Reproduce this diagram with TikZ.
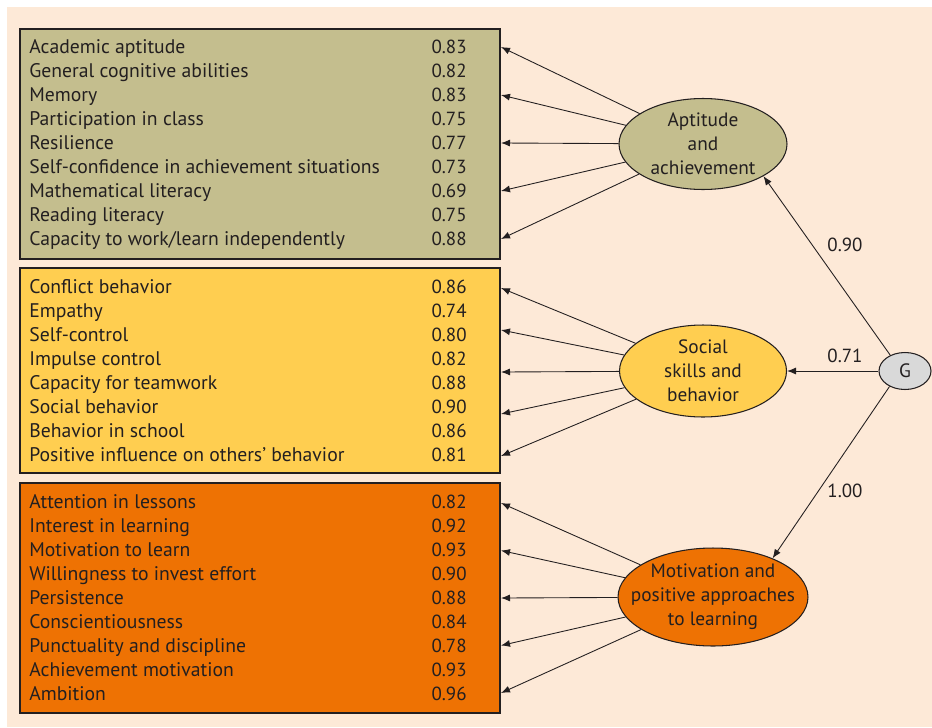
\documentclass[tikz,border=0pt]{standalone}
\usepackage{fontspec}
\setmainfont{PT Sans}
\usetikzlibrary{arrows.meta, positioning, shapes.geometric}
\definecolor{peach}{RGB}{253,233,215}
\definecolor{olive}{RGB}{196,190,142}
\definecolor{sunyellow}{RGB}{255,206,80}
\definecolor{deeporange}{RGB}{238,114,3}
\definecolor{lightgrey}{RGB}{217,217,217}
\definecolor{inkgrey}{RGB}{35,31,32}

\begin{document}
\begin{tikzpicture}[
    x=0.02cm, y=-0.02cm,
    box/.style={rectangle, draw=inkgrey, line width=0.8pt, minimum width=9.6cm, inner sep=0pt},
    item/.style={anchor=base west, inner sep=0pt, font=\fontsize{11.2}{12}\selectfont, text=inkgrey},
    load/.style={anchor=base east, inner sep=0pt, font=\fontsize{10.8}{12}\selectfont, text=inkgrey},
    factor/.style={ellipse, draw=inkgrey, line width=0.6pt, inner xsep=-10pt, inner ysep=-4pt,
                   align=center, font=\fontsize{11}{13.6}\selectfont, text=inkgrey},
    arrow/.style={-{Latex[length=1.8mm, width=1.4mm]}, line width=0.5pt, inkgrey},
    coef/.style={font=\fontsize{10.8}{12}\selectfont, text=inkgrey}
]

\useasboundingbox (0,0) rectangle (932,727);
\fill[white] (0,0) rectangle (932,727);
\fill[peach] (7,7) rectangle (932,727);

\node[box, fill=olive, minimum height=4.6cm] (boxA) at (260,144) {};
\node[box, fill=sunyellow, minimum height=4.1cm] (boxB) at (260,370.5) {};
\node[box, fill=deeporange, minimum height=4.6cm] (boxC) at (260,598) {};

\foreach \txt/\val [count=\i] in {Academic aptitude/0.83, General cognitive abilities/0.82,
    Memory/0.83, Participation in class/0.75, Resilience/0.77,
    Self-confidence in achievement situations/0.73, Mathematical literacy/0.69,
    Reading literacy/0.75, {Capacity to work/learn independently}/0.88} {
  \node[item] (a\i) at (29,29+24*\i) {\txt};
  \node[load] (av\i) at (467,29+24*\i) {\val};
}

\foreach \txt/\val [count=\i] in {Conflict behavior/0.86, Empathy/0.74, Self-control/0.80,
    Impulse control/0.82, Capacity for teamwork/0.88, Social behavior/0.90,
    Behavior in school/0.86, Positive influence on others' behavior/0.81} {
  \node[item] (s\i) at (29,269+24*\i) {\txt};
  \node[load] (sv\i) at (467,269+24*\i) {\val};
}

\foreach \txt/\val [count=\i] in {Attention in lessons/0.82, Interest in learning/0.92,
    Motivation to learn/0.93, Willingness to invest effort/0.90, Persistence/0.88,
    Conscientiousness/0.84, Punctuality and discipline/0.78,
    Achievement motivation/0.93, Ambition/0.96} {
  \node[item] (m\i) at (29,484+24*\i) {\txt};
  \node[load] (mv\i) at (467,484+24*\i) {\val};
}

\node[factor, fill=olive, minimum width=3.36cm, minimum height=1.82cm] (apt) at (703,144)
  {Aptitude\\and\\achievement};
\node[factor, fill=sunyellow, minimum width=3.34cm, minimum height=1.84cm] (soc) at (703,371)
  {Social\\skills and\\behavior};
\node[factor, fill=deeporange, minimum width=3.8cm, minimum height=1.96cm] (mot) at (713,597)
  {Motivation and\\positive approaches\\to learning};
\node[factor, fill=lightgrey, minimum width=1.04cm, minimum height=0.74cm] (g) at (905,371) {G};

\foreach \k in {1,...,5} {
  \coordinate (ta\k) at (501,47+48*\k-48);
  \coordinate (tb\k) at (501,288+42*\k-42);
  \coordinate (tc\k) at (501,503+47.5*\k-47.5);
  \draw[arrow] (apt) -- (ta\k);
  \draw[arrow] (soc) -- (tb\k);
  \draw[arrow] (mot) -- (tc\k);
}

\draw[arrow] (g.133) -- (apt.-28);
\draw[arrow] (g) -- (soc);
\draw[arrow] (g.225) -- (mot.33);

\node[coef] (c1) at (845,245) {0.90};
\node[coef] (c2) at (845,356) {0.71};
\node[coef] (c3) at (845,491) {1.00};

\end{tikzpicture}
\end{document}
